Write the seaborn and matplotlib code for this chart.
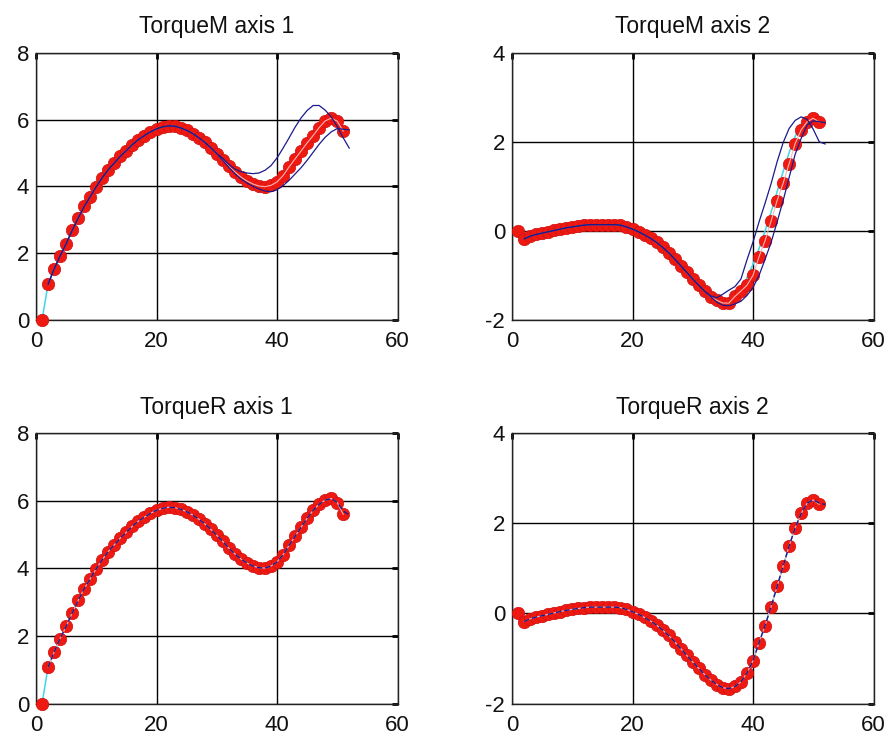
import matplotlib
matplotlib.use("Agg")
import matplotlib.pyplot as plt
import seaborn as sns

# Sample index of the measured torque and of the one-step predictions
steps = list(range(1, 52))
pred_steps = list(range(2, 53))

# ---- TorqueM, axis 1 -------------------------------------------------------
torque_m1 = [0.00, 1.07, 1.52, 1.92, 2.28, 2.68, 3.05, 3.40, 3.69, 3.99,
             4.26, 4.50, 4.70, 4.90, 5.07, 5.25, 5.40, 5.52, 5.63, 5.72,
             5.78, 5.81, 5.80, 5.75, 5.68, 5.58, 5.46, 5.32, 5.16, 4.98,
             4.80, 4.60, 4.43, 4.28, 4.16, 4.07, 4.01, 3.99, 4.03, 4.13,
             4.32, 4.58, 4.82, 5.06, 5.30, 5.52, 5.76, 5.96, 6.04, 5.95,
             5.65]
torque_m1_est = torque_m1
torque_m1_hi = [1.07, 1.52, 1.92, 2.28, 2.68, 3.05, 3.40, 3.69, 3.99, 4.26,
                4.50, 4.70, 4.90, 5.07, 5.25, 5.40, 5.52, 5.63, 5.72, 5.78,
                5.81, 5.80, 5.75, 5.68, 5.58, 5.46, 5.32, 5.16, 4.98, 4.84,
                4.66, 4.52, 4.44, 4.40, 4.38, 4.40, 4.48, 4.62, 4.85, 5.14,
                5.45, 5.77, 6.05, 6.27, 6.42, 6.42, 6.28, 6.08, 5.79, 5.45,
                5.14]
torque_m1_lo = [1.07, 1.52, 1.92, 2.28, 2.68, 3.05, 3.40, 3.69, 3.99, 4.26,
                4.50, 4.70, 4.90, 5.07, 5.25, 5.40, 5.52, 5.63, 5.72, 5.78,
                5.81, 5.80, 5.75, 5.68, 5.58, 5.46, 5.32, 5.16, 4.98, 4.78,
                4.57, 4.38, 4.22, 4.10, 4.00, 3.92, 3.86, 3.84, 3.90, 4.02,
                4.18, 4.37, 4.56, 4.78, 5.02, 5.26, 5.47, 5.63, 5.73, 5.71,
                5.69]

# ---- TorqueM, axis 2 -------------------------------------------------------
torque_m2 = [0.00, -0.18, -0.12, -0.08, -0.05, -0.02, 0.01, 0.04, 0.07, 0.09,
             0.11, 0.13, 0.14, 0.14, 0.14, 0.14, 0.14, 0.13, 0.09, 0.04,
             -0.02, -0.09, -0.17, -0.26, -0.37, -0.49, -0.63, -0.78, -0.93, -1.08,
             -1.22, -1.36, -1.48, -1.56, -1.62, -1.62, -1.47, -1.35, -1.22, -1.00,
             -0.58, -0.22, 0.22, 0.68, 1.07, 1.51, 1.96, 2.27, 2.45, 2.53,
             2.44]
torque_m2_est = [0.00, -0.18, -0.12, -0.08, -0.05, -0.02, 0.01, 0.04, 0.07, 0.09,
                 0.11, 0.13, 0.14, 0.14, 0.14, 0.14, 0.14, 0.13, 0.09, 0.04,
                 -0.02, -0.09, -0.17, -0.26, -0.37, -0.49, -0.63, -0.78, -0.93, -1.08,
                 -1.22, -1.36, -1.48, -1.56, -1.62, -1.62, -1.55, -1.33, -1.05, -0.75,
                 -0.40, 0.00, 0.42, 0.88, 1.33, 1.76, 2.12, 2.40, 2.50, 2.48,
                 2.44]
torque_m2_hi = [-0.18, -0.12, -0.08, -0.05, -0.02, 0.01, 0.04, 0.07, 0.09, 0.11,
                0.13, 0.14, 0.14, 0.14, 0.14, 0.14, 0.13, 0.09, 0.04, -0.02,
                -0.09, -0.17, -0.26, -0.37, -0.49, -0.63, -0.78, -0.93, -1.08, -1.22,
                -1.36, -1.46, -1.50, -1.42, -1.33, -1.25, -1.08, -0.65, -0.25, 0.20,
                0.62, 1.06, 1.55, 1.98, 2.30, 2.48, 2.56, 2.50, 2.28, 2.00,
                1.95]
torque_m2_lo = [-0.18, -0.12, -0.08, -0.05, -0.02, 0.01, 0.04, 0.07, 0.09, 0.11,
                0.13, 0.14, 0.14, 0.14, 0.14, 0.14, 0.13, 0.09, 0.04, -0.02,
                -0.09, -0.17, -0.26, -0.37, -0.49, -0.63, -0.78, -0.93, -1.08, -1.22,
                -1.36, -1.48, -1.60, -1.67, -1.68, -1.64, -1.58, -1.45, -1.27, -1.00,
                -0.64, -0.26, 0.20, 0.68, 1.20, 1.72, 2.08, 2.38, 2.47, 2.45,
                2.43]

# ---- TorqueR, axis 1 -------------------------------------------------------
torque_r1 = [0.00, 1.07, 1.52, 1.92, 2.28, 2.68, 3.05, 3.40, 3.69, 3.99,
             4.26, 4.50, 4.70, 4.90, 5.07, 5.25, 5.40, 5.52, 5.63, 5.72,
             5.78, 5.81, 5.80, 5.75, 5.68, 5.58, 5.46, 5.32, 5.16, 4.98,
             4.80, 4.60, 4.43, 4.28, 4.16, 4.07, 4.02, 4.01, 4.07, 4.19,
             4.40, 4.68, 4.95, 5.22, 5.48, 5.72, 5.90, 6.02, 6.07, 5.95,
             5.60]
torque_r1_pred = [1.07, 1.52, 1.92, 2.28, 2.68, 3.05, 3.40, 3.69, 3.99, 4.26,
                  4.50, 4.70, 4.90, 5.07, 5.25, 5.40, 5.52, 5.63, 5.72, 5.78,
                  5.81, 5.80, 5.75, 5.68, 5.58, 5.46, 5.32, 5.16, 4.98, 4.80,
                  4.60, 4.43, 4.28, 4.16, 4.07, 4.02, 4.01, 4.07, 4.19, 4.40,
                  4.68, 4.95, 5.22, 5.48, 5.72, 5.90, 6.02, 6.07, 5.95, 5.70,
                  5.58]

# ---- TorqueR, axis 2 -------------------------------------------------------
torque_r2 = [0.00, -0.18, -0.12, -0.08, -0.05, -0.02, 0.01, 0.04, 0.07, 0.09,
             0.11, 0.13, 0.14, 0.14, 0.14, 0.14, 0.14, 0.13, 0.09, 0.04,
             -0.02, -0.09, -0.17, -0.26, -0.37, -0.49, -0.63, -0.78, -0.93, -1.08,
             -1.22, -1.36, -1.48, -1.58, -1.65, -1.67, -1.62, -1.52, -1.32, -1.05,
             -0.65, -0.27, 0.15, 0.60, 1.05, 1.50, 1.90, 2.22, 2.45, 2.52,
             2.42]
torque_r2_pred = [-0.18, -0.12, -0.08, -0.05, -0.02, 0.01, 0.04, 0.07, 0.09, 0.11,
                  0.13, 0.14, 0.14, 0.14, 0.14, 0.14, 0.13, 0.09, 0.04, -0.02,
                  -0.09, -0.17, -0.26, -0.37, -0.49, -0.63, -0.78, -0.93, -1.08, -1.22,
                  -1.36, -1.48, -1.58, -1.65, -1.67, -1.62, -1.52, -1.32, -1.05, -0.65,
                  -0.27, 0.15, 0.60, 1.05, 1.50, 1.90, 2.22, 2.45, 2.52, 2.45,
                  2.42]

x_ticks = [0, 20, 40, 60]
y_ticks_axis1 = [0, 2, 4, 6, 8]
y_ticks_axis2 = [-2, 0, 2, 4]

RED = "#ee1a12"
RED_EDGE = "#d01010"
PINK = "#ffb4b4"
NAVY = "#1a1a8c"
CYAN = "#3fd7e6"

sns.set_theme(style="white")
plt.rcParams["font.family"] = ["Liberation Sans", "DejaVu Sans"]

fig = plt.figure(figsize=(8.89, 7.38), dpi=100)
fig.patch.set_facecolor("white")

W, H = 889.0, 738.0
left_cols = [36 / W, 512 / W]
width = 361.5 / W
row_bottoms = [1 - 320 / H, 1 - 703.5 / H]
row_heights = [267.3 / H, 270.2 / H]


def style_axes(ax, ylim, yticks, title):
    ax.set_xlim(0, 60)
    ax.set_ylim(*ylim)
    ax.set_xticks(x_ticks)
    ax.set_yticks(yticks)
    ax.set_xticklabels([str(v) for v in x_ticks])
    ax.set_yticklabels([str(v) for v in yticks])
    ax.set_xlabel("")
    ax.set_ylabel("")
    ax.grid(True, color="black", linewidth=1.0, linestyle="-")
    ax.set_axisbelow(True)
    for sp in ax.spines.values():
        sp.set_visible(True)
        sp.set_color("#222222")
        sp.set_linewidth(1.0)
    ax.tick_params(direction="in", length=4, width=2.0, color="black",
                   top=True, right=True, labelsize=16, labelcolor="#111111")
    ax.tick_params(axis="x", pad=8)
    ax.tick_params(axis="y", pad=5)
    ax.set_title(title, fontsize=16.5, pad=14, color="#111111")


def draw_measured(ax, values, est):
    # estimate trace sits beneath the measured samples
    sns.lineplot(x=steps, y=est, ax=ax, color=CYAN, linewidth=1.1,
                 estimator=None, sort=False, legend=False, zorder=2)
    sns.scatterplot(x=steps, y=values, ax=ax, s=80, color=RED,
                    edgecolor=RED_EDGE, linewidth=0.5, legend=False,
                    zorder=3, clip_on=False)
    # thin trace joining the samples, from the second sample on
    sns.lineplot(x=steps[1:], y=values[1:], ax=ax, color=PINK, linewidth=0.8,
                 estimator=None, sort=False, legend=False, zorder=4)


panels = [
    (0, 0, "TorqueM axis 1", torque_m1, torque_m1_est, None, torque_m1_lo, torque_m1_hi, (0, 8), y_ticks_axis1),
    (0, 1, "TorqueM axis 2", torque_m2, torque_m2_est, None, torque_m2_lo, torque_m2_hi, (-2, 4), y_ticks_axis2),
    (1, 0, "TorqueR axis 1", torque_r1, torque_r1, torque_r1_pred, None, None, (0, 8), y_ticks_axis1),
    (1, 1, "TorqueR axis 2", torque_r2, torque_r2, torque_r2_pred, None, None, (-2, 4), y_ticks_axis2),
]

for row, col, title, meas, est, pred, lo, hi, ylim, yticks in panels:
    ax = fig.add_axes([left_cols[col], row_bottoms[row], width, row_heights[row]])
    draw_measured(ax, meas, est)
    if pred is not None:
        sns.lineplot(x=pred_steps, y=pred, ax=ax, color=NAVY, linewidth=1.0,
                     linestyle=(0, (4, 2)), estimator=None, sort=False,
                     legend=False, zorder=5)
    if lo is not None:
        for band in (hi, lo):
            sns.lineplot(x=pred_steps, y=band, ax=ax, color=NAVY, linewidth=0.9,
                         estimator=None, sort=False, legend=False, zorder=5)
    style_axes(ax, ylim, yticks, title)

fig.savefig("out.png", dpi=100, facecolor="white")
